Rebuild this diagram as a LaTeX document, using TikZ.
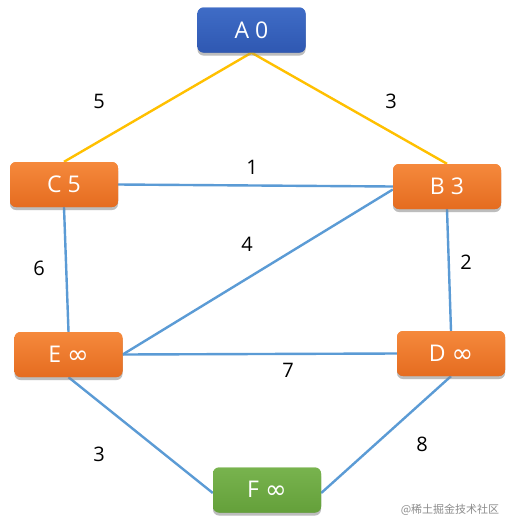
\documentclass[tikz,border=0pt]{standalone}
\usepackage{fontspec}
\setmainfont{Open Sans}
\newfontfamily\cjkfont{Noto Sans CJK SC}
\newfontfamily\infont{DejaVu Sans}
\newcommand{\inff}{{\infont\fontsize{26}{26}\selectfont\raisebox{-1pt}{∞}}}
\usetikzlibrary{shadows}
\definecolor{nblue}{HTML}{3F6CC6}
\definecolor{nblued}{HTML}{2F58B2}
\definecolor{norange}{HTML}{F5893C}
\definecolor{norangedk}{HTML}{E56C20}
\definecolor{ngreen}{HTML}{78B34E}
\definecolor{ngreendk}{HTML}{64A03A}
\definecolor{eblue}{HTML}{5B9BD5}
\definecolor{eyellow}{HTML}{FFC000}
\tikzset{
  vbox/.style={rounded corners=6pt, minimum width=108pt, minimum height=45pt,
    inner sep=0pt, text=white, font=\fontsize{23}{25}\selectfont,
    drop shadow={shadow xshift=0pt, shadow yshift=-3pt, opacity=0.3}},
  vblue/.style={vbox, top color=nblue, bottom color=nblued},
  vorange/.style={vbox, top color=norange, bottom color=norangedk},
  vgreen/.style={vbox, top color=ngreen, bottom color=ngreendk},
  bedge/.style={draw=eblue, line width=2.4pt},
  yedge/.style={draw=eyellow, line width=2.4pt},
  wlabel/.style={font=\fontsize{20}{22}\selectfont, text=black},
}
\begin{document}
\begin{tikzpicture}[x=1pt,y=-1pt]
\useasboundingbox[fill=white] (0,0) rectangle (515,531);
\node[vblue] (A) at (251.5,30) {A 0};
\node[vorange] (C) at (64,184.5) {C 5};
\node[vorange] (B) at (447,186.5) {B 3};
\node[vorange] (E) at (68.5,354.5) {E \inff};
\node[vorange] (D) at (451,353.5) {D \inff};
\node[vgreen] (F) at (267,490) {F \inff};
\draw[yedge] (A.south) -- (C.north);
\draw[yedge] (A.south) -- (B.north);
\draw[bedge] (C.east) -- (B.west);
\draw[bedge] ([yshift=-3pt]B.west) -- (E.east);
\draw[bedge] (C.south) -- (E.north);
\draw[bedge] (B.south) -- (D.north);
\draw[bedge] (E.east) -- (D.west);
\draw[bedge] (E.south) -- ([yshift=-3pt]F.west);
\draw[bedge] (D.south) -- ([yshift=-3pt]F.east);
% redraw nodes over edges
\node[vblue] at (A) {A 0};
\node[vorange] at (C) {C 5};
\node[vorange] at (B) {B 3};
\node[vorange] at (E) {E \inff};
\node[vorange] at (D) {D \inff};
\node[vgreen] at (F) {F \inff};
% weights
\node[wlabel] (w5) at (99,101) {5};
\node[wlabel] (w3a) at (391,101) {3};
\node[wlabel] (w1) at (252,167) {1};
\node[wlabel] (w4) at (247,244) {4};
\node[wlabel] (w6) at (39,268) {6};
\node[wlabel] (w2) at (466,262) {2};
\node[wlabel] (w7) at (288,370) {7};
\node[wlabel] (w3b) at (99,454) {3};
\node[wlabel] (w8) at (422,444) {8};
\node[text=black!45, font=\cjkfont\fontsize{11}{12}\selectfont] (wm) at (450,510) {@稀土掘金技术社区};
\end{tikzpicture}
\end{document}
